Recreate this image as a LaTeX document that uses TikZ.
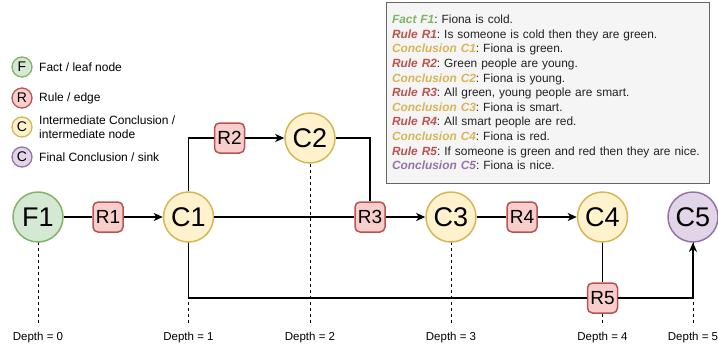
\documentclass[tikz,border=0pt]{standalone}
\usepackage{fontspec}
\setmainfont{Liberation Sans}
\usetikzlibrary{arrows.meta}
\frenchspacing
\definecolor{gfill}{HTML}{D5E8D4}
\definecolor{gline}{HTML}{82B366}
\definecolor{rfill}{HTML}{F8CECC}
\definecolor{rline}{HTML}{B85450}
\definecolor{yfill}{HTML}{FFF2CC}
\definecolor{yline}{HTML}{D6B656}
\definecolor{pfill}{HTML}{E1D5E7}
\definecolor{pline}{HTML}{9673A6}
\definecolor{boxfill}{HTML}{F5F5F5}
\definecolor{boxline}{HTML}{666666}
\definecolor{txt}{HTML}{222222}
\begin{document}
\begin{tikzpicture}[x=1pt,y=-1pt,
  bignode/.style={circle, line width=1.5pt, minimum size=50pt, inner sep=0pt, font=\fontsize{27}{27}\selectfont},
  factnode/.style={bignode, draw=gline, fill=gfill},
  conclnode/.style={bignode, draw=yline, fill=yfill},
  finalnode/.style={bignode, draw=pline, fill=pfill},
  rulebox/.style={rectangle, rounded corners=5pt, draw=rline, fill=rfill, line width=1.5pt, minimum width=30pt, minimum height=30pt, inner sep=0pt, font=\fontsize{19}{19}\selectfont},
  legcirc/.style={circle, line width=1.3pt, minimum size=20pt, inner sep=0pt, font=\fontsize{14}{14}\selectfont},
  legtext/.style={anchor=west, align=left, inner sep=0pt, font=\fontsize{12}{14.5}\selectfont},
  conn/.style={line width=1.6pt},
  arr/.style={conn, -{Stealth[length=9pt,width=8pt,inset=2.5pt]}},
  depthline/.style={dash pattern=on 3pt off 3pt, line width=0.8pt},
  depthlabel/.style={font=\fontsize{11.5}{12}\selectfont, inner sep=0pt},
  infobox/.style={draw=boxline, fill=boxfill, line width=1pt, minimum width=323pt, minimum height=181pt, text width=311pt, inner xsep=6pt, align=left, font=\fontsize{11.9}{14.6}\selectfont, text=txt}
]
\useasboundingbox (0,0) rectangle (718,354);

% legend
\node[legcirc, draw=gline, fill=gfill] (lf) at (22,67) {F};
\node[legcirc, draw=rline, fill=rfill] (lr) at (22,98) {R};
\node[legcirc, draw=yline, fill=yfill] (lc) at (22,127) {C};
\node[legcirc, draw=pline, fill=pfill] (lp) at (22,157) {C};
\node[legtext] (tf) at (39,67) {Fact / leaf node};
\node[legtext] (tr) at (39,98) {Rule / edge};
\node[legtext] (tc) at (39,127) {Intermediate Conclusion /\\intermediate node};
\node[legtext] (tp) at (39,157) {Final Conclusion / sink};

% info box
\node[infobox] (info) at (547.5,92.5) {%
\textcolor{gline}{\textbf{\textit{Fact F1}}}: Fiona is cold.\\
\textcolor{rline}{\textbf{\textit{Rule R1}}}: Is someone is cold then they are green.\\
\textcolor{yline}{\textbf{\textit{Conclusion C1}}}: Fiona is green.\\
\textcolor{rline}{\textbf{\textit{Rule R2}}}: Green people are young.\\
\textcolor{yline}{\textbf{\textit{Conclusion C2}}}: Fiona is young.\\
\textcolor{rline}{\textbf{\textit{Rule R3}}}: All green, young people are smart.\\
\textcolor{yline}{\textbf{\textit{Conclusion C3}}}: Fiona is smart.\\
\textcolor{rline}{\textbf{\textit{Rule R4}}}: All smart people are red.\\
\textcolor{yline}{\textbf{\textit{Conclusion C4}}}: Fiona is red.\\
\textcolor{rline}{\textbf{\textit{Rule R5}}}: If someone is green and red then they are nice.\\
\textcolor{pline}{\textbf{\textit{Conclusion C5}}}: Fiona is nice.};

% depth markers
\coordinate (d0) at (38,325);
\coordinate (d1) at (188.5,325);
\coordinate (d2) at (310,325);
\coordinate (d3) at (451,325);
\coordinate (d4) at (602.5,325);
\coordinate (d5) at (693,325);
\coordinate (s0) at (38,242);
\coordinate (s1) at (188.5,242);
\coordinate (s2) at (310,164);
\coordinate (s3) at (451,242);
\coordinate (s4) at (602.5,242);
\coordinate (s5) at (693,242);
\foreach \i in {0,...,5} {\draw[depthline] (s\i) -- (d\i);}
\node[depthlabel] (l0) at (38,338) {Depth = 0};
\node[depthlabel] (l1) at (188.5,338) {Depth = 1};
\node[depthlabel] (l2) at (310,338) {Depth = 2};
\node[depthlabel] (l3) at (451,338) {Depth = 3};
\node[depthlabel] (l4) at (602.5,338) {Depth = 4};
\node[depthlabel] (l5) at (693,338) {Depth = 5};

% main nodes
\node[factnode] (F1) at (38,217) {F1};
\node[rulebox] (R1) at (108,217) {R1};
\node[conclnode] (C1) at (188.5,217) {C1};
\node[rulebox] (R2) at (229.5,138) {R2};
\node[conclnode] (C2) at (310,138) {C2};
\node[rulebox] (R3) at (370,217) {R3};
\node[conclnode] (C3) at (451,217) {C3};
\node[rulebox] (R4) at (522,217) {R4};
\node[conclnode] (C4) at (602.5,217) {C4};
\node[rulebox] (R5) at (602.5,298) {R5};
\node[finalnode] (C5) at (693,217) {C5};

% connectors
\draw[conn] (F1) -- (R1);
\draw[arr] (R1) -- (C1);
\draw[conn] (C1.north) |- (R2.west);
\draw[arr] (R2) -- (C2);
\draw[conn] (C2.east) -| (R3.north);
\draw[conn] (C1.east) -- (R3.west);
\draw[arr] (R3) -- (C3);
\draw[conn] (C3) -- (R4);
\draw[arr] (R4) -- (C4);
\draw[conn] (C4.south) -- (R5.north);
\draw[conn] (C1.south) |- (R5.west);
\draw[arr] (R5.east) -| (C5.south);
\end{tikzpicture}
\end{document}
